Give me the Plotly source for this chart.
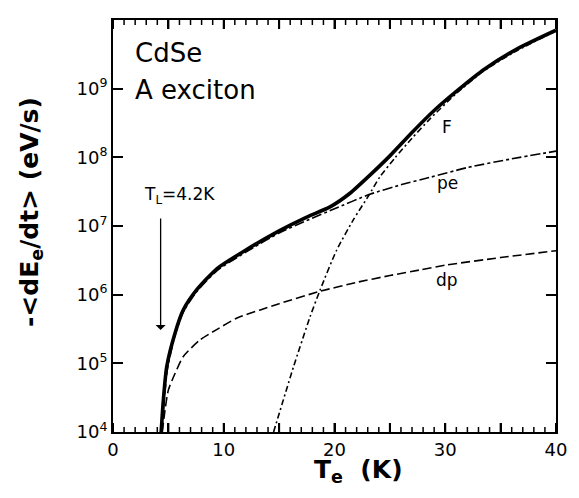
import math
import plotly.graph_objects as go

# ---- data ----
T_total = [4.35, 4.55, 4.85, 5.6, 6.35, 7.55, 9.4, 12.0, 15.0, 17.5, 19.6, 21.4, 23.2, 25.0, 27.0, 29.0, 31.0, 33.5, 36.5, 40.0]
total = [1.0e4, 2.95e4, 8.9e4, 2.75e5, 6.0e5, 1.17e6, 2.4e6, 4.47e6, 8.5e6, 1.35e7, 1.9e7, 3.0e7, 5.5e7, 1.05e8, 2.3e8, 4.8e8, 9.1e8, 1.9e9, 3.8e9, 7.1e9]

T_pe = [4.4, 4.6, 4.9, 5.6, 6.35, 7.55, 9.4, 12.0, 15.0, 17.5, 20.0, 23.2, 26.0, 28.6, 32.0, 36.0, 40.0]
pe = [1.0e4, 2.6e4, 7.9e4, 2.57e5, 5.6e5, 1.1e6, 2.24e6, 4.17e6, 7.9e6, 1.2e7, 1.78e7, 2.9e7, 3.98e7, 5.1e7, 7.1e7, 9.5e7, 1.23e8]

T_dp = [4.45, 4.7, 5.0, 5.6, 6.35, 7.85, 9.36, 11.2, 13.3, 15.0, 18.7, 22.0, 25.0, 27.7, 30.0, 35.0, 40.0]
dp = [1.0e4, 2.1e4, 4.1e4, 7.1e4, 1.26e5, 2.19e5, 3.1e5, 4.57e5, 6.0e5, 7.4e5, 1.12e6, 1.51e6, 1.9e6, 2.29e6, 2.69e6, 3.47e6, 4.37e6]

T_F = [14.5, 16.3, 17.8, 18.7, 20.2, 21.7, 23.1, 24.1, 25.5, 27.0, 28.6, 31.0, 33.5, 36.5, 40.0]
F = [1.0e4, 8.9e4, 4.8e5, 1.17e6, 4.47e6, 1.23e7, 2.8e7, 5.2e7, 1.0e8, 1.9e8, 3.6e8, 8.5e8, 1.82e9, 3.6e9, 6.9e9]

x_tickvals = [0, 5, 10, 15, 20, 25, 30, 35, 40]
x_ticktext = ["0", "", "10", "", "20", "", "30", "", "40"]
y_tickvals = [1e4, 1e5, 1e6, 1e7, 1e8, 1e9, 1e10]
y_ticktext = ["10<sup>4</sup>", "10<sup>5</sup>", "10<sup>6</sup>", "10<sup>7</sup>",
              "10<sup>8</sup>", "10<sup>9</sup>", "10<sup>10</sup>"]

# minor tick positions (axis configuration)
x_minor = [v for v in range(0, 41) if v % 5 != 0]
y_minor = [m * 10 ** e for e in range(4, 10) for m in range(2, 10)]

FONT = "DejaVu Sans"
PLOT_W, PLOT_H = 443, 412  # plot-area size in px

fig = go.Figure()
fig.add_trace(go.Scatter(x=T_total, y=total, mode="lines",
                         line=dict(color="black", width=3.6, shape="spline", smoothing=0.6)))
fig.add_trace(go.Scatter(x=T_pe, y=pe, mode="lines",
                         line=dict(color="black", width=1.6, dash="10px,3px,3px,3px", shape="spline", smoothing=0.6)))
fig.add_trace(go.Scatter(x=T_dp, y=dp, mode="lines",
                         line=dict(color="black", width=1.6, dash="9px,4px", shape="spline", smoothing=0.6)))
fig.add_trace(go.Scatter(x=T_F, y=F, mode="lines",
                         line=dict(color="black", width=1.6, dash="6px,3px,2px,3px", shape="spline", smoothing=0.6)))

tickfont = dict(family=FONT, size=18, color="black")
fig.update_layout(
    template="none",
    xaxis=dict(range=[0, 40], tickmode="array", tickvals=x_tickvals, ticktext=x_ticktext,
               showline=True, linewidth=2, linecolor="black", mirror="ticks",
               ticks="inside", tickcolor="black", tickwidth=2, ticklen=9,
               showgrid=False, zeroline=False, tickfont=tickfont),
    yaxis=dict(type="log", range=[4, 10], tickmode="array", tickvals=y_tickvals, ticktext=y_ticktext,
               showline=True, linewidth=2, linecolor="black", mirror="ticks",
               ticks="inside", tickcolor="black", tickwidth=2, ticklen=10,
               showgrid=False, zeroline=False, tickfont=tickfont),
)

# inward tick marks on all four sides, placed through the axes' own scales
shapes = []
def xtick(v, length_px, width):
    d = length_px / PLOT_H
    for y0, y1 in [(0, d), (1, 1 - d)]:
        shapes.append(dict(type="line", xref="x", yref="paper", x0=v, x1=v, y0=y0, y1=y1,
                           layer="above", line=dict(color="black", width=width)))
def ytick(v, length_px, width):
    d = length_px / PLOT_W
    lv = math.log10(v)
    for x0, x1 in [(0, d), (1, 1 - d)]:
        shapes.append(dict(type="line", xref="paper", yref="y", x0=x0, x1=x1, y0=lv, y1=lv,
                           layer="above", line=dict(color="black", width=width)))
for v in x_tickvals:
    xtick(v, 9, 2)
for v in x_minor:
    xtick(v, 5, 1.5)
for v in y_tickvals:
    ytick(v, 10, 2)
for v in y_minor:
    ytick(v, 6, 1.5)

ann = []
ann.append(dict(xref="paper", yref="paper", x=0.045, y=0.92, xanchor="left", yanchor="middle",
                text="CdSe", showarrow=False, font=dict(family=FONT, size=26, color="black")))
ann.append(dict(xref="paper", yref="paper", x=0.045, y=0.83, xanchor="left", yanchor="middle",
                text="A exciton", showarrow=False, font=dict(family=FONT, size=26, color="black")))
ann.append(dict(xref="paper", yref="paper", x=0.149, y=0.575, xanchor="center", yanchor="middle",
                text="T<sub>L</sub>=4.2K", showarrow=False, font=dict(family=FONT, size=17, color="black")))
ann.append(dict(xref="x", yref="y", x=4.3, y=5.485, ax=0, ay=-113, text="", showarrow=True,
                arrowhead=1, arrowsize=1.3, arrowwidth=1.3, arrowcolor="black"))
for lbl, yy in [("F", 8.44), ("pe", 7.63), ("dp", 6.21)]:
    ann.append(dict(xref="x", yref="y", x=30.2, y=yy, text=lbl, showarrow=False,
                    font=dict(family=FONT, size=17, color="black")))
ann.append(dict(xref="paper", yref="paper", x=0.555, y=-0.094, xanchor="center", yanchor="middle",
                text="<b>T<sub>e</sub>&nbsp; (K)</b>", showarrow=False, font=dict(family=FONT, size=25, color="black")))
ann.append(dict(xref="paper", yref="paper", x=-0.185, y=0.534, xanchor="center", yanchor="middle",
                textangle=-90, text="<b>-&lt;dE<sub>e</sub>/dt&gt; (eV/s)</b>", showarrow=False,
                font=dict(family=FONT, size=25, color="black")))

# page body has an 8px margin, so the figure is offset by 8px; compensate in margins/size
fig.update_layout(width=569, height=480, margin=dict(l=105, r=21, t=12, b=56),
                  plot_bgcolor="white", paper_bgcolor="white", showlegend=False,
                  annotations=ann, shapes=shapes, font=dict(family=FONT, color="black"))

fig.write_html("out.html")
